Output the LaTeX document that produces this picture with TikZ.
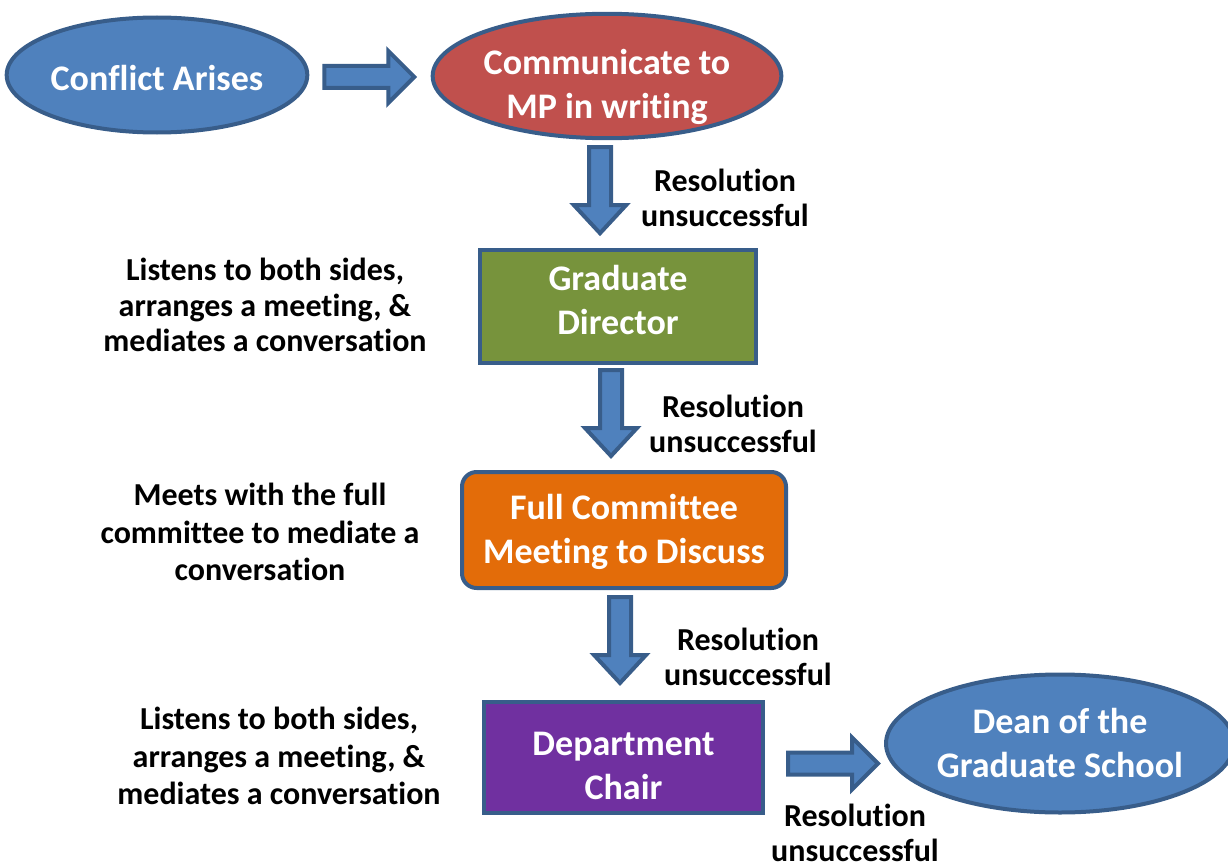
\documentclass[tikz,border=0pt]{standalone}
\usepackage{fontspec}
\setmainfont{Carlito}[Ligatures={NoCommon}]
\usetikzlibrary{shapes.geometric}
\definecolor{bluefill}{HTML}{4F81BD}
\definecolor{blueline}{HTML}{385D8A}
\definecolor{redfill}{HTML}{C0504D}
\definecolor{greenfill}{HTML}{77933C}
\definecolor{orangefill}{HTML}{E36C09}
\definecolor{purplefill}{HTML}{7030A0}
\newcommand\shiftedlines[2]{\raisebox{#1}[\height][\depth]{\begin{tabular}{@{}c@{}}#2\end{tabular}}}
\begin{document}
\begin{tikzpicture}[x=0.75pt,y=-0.75pt,
  shapebase/.style={draw=blueline, line width=3pt, text=white,
    font=\bfseries\fontsize{27}{33}\selectfont, align=center, inner sep=0pt},
  oval/.style={shapebase, ellipse, fill=bluefill},
  box/.style={shapebase, rectangle},
  note/.style={font=\bfseries\fontsize{24}{26}\selectfont, align=center, text=black, inner sep=0pt},
  barrow/.style={fill=bluefill, draw=blueline, line width=3pt, line join=miter},
  downarr/.pic={\draw[barrow] (-11,0) -- (11,0) -- (11,58) -- (26,58) -- (0,86) -- (-26,58) -- (-11,58) -- cycle;},
  rightarr/.pic={\draw[barrow] (0,-11) -- (0,11) -- (64,11) -- (64,26) -- (90,0) -- (64,-26) -- (64,-11) -- cycle;}
]
\useasboundingbox (0,0) rectangle (1228,867);

% nodes
\node[oval, minimum width=221.25pt, minimum height=86.25pt] (conflict) at (157,75) {\shiftedlines{-5.25pt}{Conflict Arises}};
\node[oval, fill=redfill, minimum width=259.5pt, minimum height=93pt] (comm) at (607,76) {\shiftedlines{-9pt}{Communicate to\\MP in writing}};
\node[box, fill=greenfill, minimum width=207pt, minimum height=84.75pt] (gd) at (618,306.5) {\shiftedlines{2.25pt}{Graduate\\Director}};
\node[box, fill=orangefill, rounded corners=11pt, minimum width=243pt, minimum height=87pt] (fc) at (624,530) {\shiftedlines{-2.25pt}{Full Committee\\Meeting to Discuss}};
\node[box, fill=purplefill, minimum width=209.25pt, minimum height=83.25pt] (dc) at (623.5,757.5) {\shiftedlines{-8.25pt}{Department\\Chair}};
\node[oval, minimum width=249pt, minimum height=103.5pt] (dean) at (1060,743.5) {\shiftedlines{-2.25pt}{Dean of the\\Graduate School}};

% block arrows
\path (conflict.east) ++(15,2) pic{rightarr};
\path (comm.south) ++(-7,7) pic{downarr};
\path (gd.south) ++(-7,5) pic{downarr};
\path (fc.south) ++(-4,7) pic{downarr};
\path (dc.east) ++(23,6) pic{rightarr};

% labels
\node[note] (l1) at (725,198) {Resolution\\unsuccessful};
\node[note] (l2) at (733,424) {Resolution\\unsuccessful};
\node[note] (l3) at (748,657) {Resolution\\unsuccessful};
\node[note] (l4) at (855,833) {Resolution\\unsuccessful};

\node[note, font=\bfseries\fontsize{24}{26.5}\selectfont] (s1) at (265,305) {Listens to both sides,\\arranges a meeting, \&\\mediates a conversation};
\node[note, font=\bfseries\fontsize{24}{28}\selectfont] (s2) at (260,532) {Meets with the full\\committee to mediate a\\conversation};
\node[note, font=\bfseries\fontsize{24}{28}\selectfont] (s3) at (279,756) {Listens to both sides,\\arranges a meeting, \&\\mediates a conversation};
\end{tikzpicture}
\end{document}
